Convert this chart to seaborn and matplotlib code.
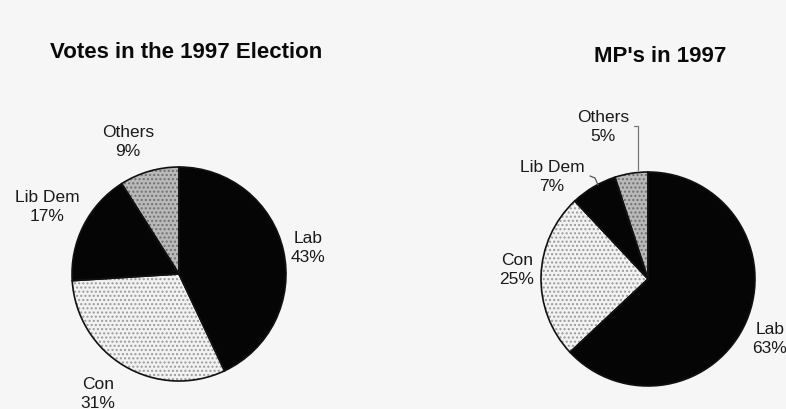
import matplotlib
matplotlib.use("Agg")
import matplotlib.pyplot as plt
import seaborn as sns

# ---- data ----
parties = ["Lab", "Con", "Lib Dem", "Others"]
votes_pct = [43, 31, 17, 9]
mps_pct = [63, 25, 7, 5]
title_votes = "Votes in the 1997 Election"
title_mps = "MP's in 1997"

sns.set_theme(style="white")
plt.rcParams["font.family"] = ["Liberation Sans", "DejaVu Sans"]
plt.rcParams["hatch.linewidth"] = 1.0

face_colors = ["#050505", "#f2f2f2", "#050505", "#b9b9b9"]
hatch_colors = ["none", "#9a9a9a", "none", "#707070"]
hatches = [None, "....", None, "...."]

W, H = 786, 410
fig = plt.figure(figsize=(7.86, 4.10), dpi=100)
fig.patch.set_facecolor("#f6f6f6")
ax = fig.add_axes([0, 0, 1, 1])
ax.set_xlim(0, W)
ax.set_ylim(0, H)
ax.set_aspect("equal")
ax.axis("off")


def draw_pie(values, cx, cy, r):
    # fills
    ax.pie(values, colors=face_colors, startangle=90, counterclock=False,
           center=(cx, H - cy), radius=r, frame=True,
           wedgeprops=dict(linewidth=0))
    # hatch overlay
    wedges, _ = ax.pie(values, startangle=90, counterclock=False,
                       center=(cx, H - cy), radius=r, frame=True,
                       wedgeprops=dict(linewidth=0, facecolor="none"))
    for w, hc, hp in zip(wedges, hatch_colors, hatches):
        if hp:
            w.set_hatch(hp)
            w.set_edgecolor(hc)
        else:
            w.set_edgecolor("none")
    # outlines
    ax.pie(values, startangle=90, counterclock=False,
           center=(cx, H - cy), radius=r, frame=True,
           wedgeprops=dict(linewidth=1.2, facecolor="none", edgecolor="#111111"))


draw_pie(votes_pct, 179, 275, 107)
draw_pie(mps_pct, 648, 280, 107)

ax.set_xlim(0, W)
ax.set_ylim(0, H)
ax.axis("off")

tkw = dict(fontsize=16, fontweight="bold", ha="center", va="center", color="#0a0a0a")
ax.text(186, H - 52, title_votes, **tkw)
ax.text(660, H - 57, title_mps, **tkw)

lkw = dict(fontsize=12.5, ha="center", va="center", color="#1a1a1a", linespacing=1.3)


def lab(x, y, i, vals):
    ax.text(x, H - y, f"{parties[i]}\n{vals[i]}%", **lkw)


# left pie labels
lab(308, 248, 0, votes_pct)
lab(98, 394, 1, votes_pct)
lab(47, 207, 2, votes_pct)
lab(128, 142, 3, votes_pct)

# right pie labels
lab(770, 339, 0, mps_pct)
lab(517, 270, 1, mps_pct)
lab(552, 177, 2, mps_pct)
lab(603, 127, 3, mps_pct)

# leader lines (right pie)
ax.plot([634, 638, 638], [H - 127, H - 127, H - 171], color="#777777", lw=0.9)
ax.plot([590, 595, 598], [H - 177, H - 179, H - 186], color="#555555", lw=0.9)

fig.savefig("out.png", dpi=100, facecolor=fig.get_facecolor())
